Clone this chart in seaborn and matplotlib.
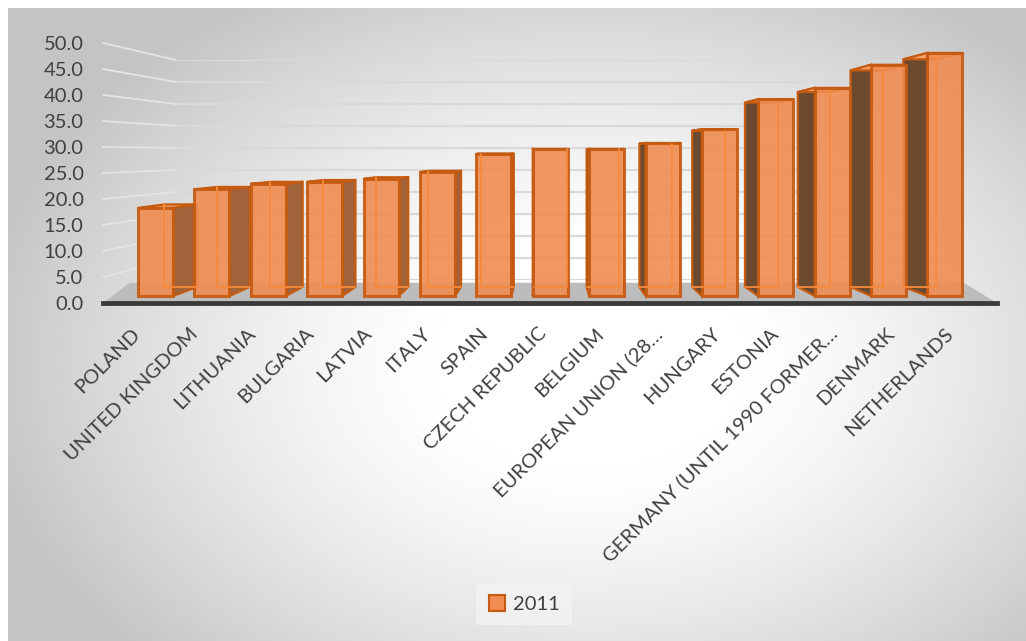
import numpy as np
import pandas as pd
import matplotlib
matplotlib.use("Agg")
import matplotlib.pyplot as plt
import seaborn as sns
from matplotlib.patches import Polygon, Patch, ConnectionPatch
from matplotlib import transforms

# ---------------- data ----------------
countries = ["POLAND", "UNITED KINGDOM", "LITHUANIA", "BULGARIA", "LATVIA", "ITALY",
             "SPAIN", "CZECH REPUBLIC", "BELGIUM", "EUROPEAN UNION (28\u2026",
             "HUNGARY", "ESTONIA", "GERMANY (UNTIL 1990 FORMER\u2026", "DENMARK",
             "NETHERLANDS"]
values_2011 = [17.9, 21.7, 22.8, 23.2, 23.8, 25.2, 28.9, 29.9, 29.9, 31.1,
               33.9, 40.0, 42.3, 47.0, 49.4]
series_name = "2011"
y_ticks = [0, 5, 10, 15, 20, 25, 30, 35, 40, 45, 50]

df = pd.DataFrame({"country": countries, "value": values_2011})

# ---------------- style ----------------
sns.set_theme(style="white")
plt.rcParams["font.family"] = ["Lato", "DejaVu Sans"]
TXT = "#404040"
FRONT = "#f08c50"
EDGE = "#c55a11"
BACKLINE = "#f58a3c"
TOP = "#f6a46c"
SIDE_R = "#a2623a"
SIDE_L = "#6b4a30"
FLOOR = "#bcbcbc"
GRID = "#d9d9d9"

W, H = 1026, 641
fig = plt.figure(figsize=(W / 100, H / 100), dpi=100)

def frac(x0, y0, x1, y1):
    """pixel box (top-left origin) -> figure fraction rect"""
    return [x0 / W, 1 - y1 / H, (x1 - x0) / W, (y1 - y0) / H]

# background radial gradient (chart area)
bg = fig.add_axes([0, 0, 1, 1], zorder=-10)
yy, xx = np.mgrid[0:H, 0:W]
d = np.sqrt(((xx - 590) / 620.0) ** 2 + ((yy - 360) / 430.0) ** 2)
g = 1.0 - 0.23 * np.clip((d - 0.25) / 0.75, 0, 1) ** 1.3
img = np.dstack([g, g, g])
img[:8, :, :] = 1.0
img[:, :8, :] = 1.0
bg.imshow(img, aspect="auto", extent=[0, 1, 0, 1], interpolation="bilinear")
bg.axis("off")

# back wall with gridlines
ax_wall = fig.add_axes(frac(176, 60, 965, 280), zorder=-3)
ax_wall.set_ylim(0, 50)
ax_wall.set_yticks(y_ticks)
ax_wall.set_xticks([])
ax_wall.tick_params(left=False, labelleft=False)
ax_wall.grid(axis="y", color=GRID, lw=1.6)
ax_wall.patch.set_visible(False)
for s in ax_wall.spines.values():
    s.set_visible(False)

# value-axis labels (front plane)
ax_lab = fig.add_axes(frac(103, 43, 104, 303), zorder=-3)
ax_lab.set_ylim(0, 50)
ax_lab.set_yticks(y_ticks)
ax_lab.set_yticklabels([f"{t:.1f}" for t in y_ticks])
ax_lab.set_xticks([])
ax_lab.tick_params(axis="y", length=0, pad=14, labelsize=14.5, labelcolor=TXT)
ax_lab.patch.set_visible(False)
for s in ax_lab.spines.values():
    s.set_visible(False)

# side-wall gridlines joining the label plane to the back wall
for t in y_ticks[1:]:
    cp = ConnectionPatch(xyA=(0, t), coordsA=ax_lab.get_yaxis_transform(),
                         xyB=(0, t), coordsB=ax_wall.get_yaxis_transform(),
                         color="#e4e4e4", lw=1.3, zorder=-2)
    fig.add_artist(cp)

# ---------------- main axes ----------------
PX_SCALE = 4.92          # px per unit at bar front plane
ax = fig.add_axes(frac(103, 30, 997, 303), zorder=0)
ax.patch.set_visible(False)
ylo = -(303 - 296) / PX_SCALE
yhi = (296 - 30) / PX_SCALE
xlo, xhi = -0.931, 14.923

VX, VY = 7.0, (296 - 153) / PX_SCALE   # vanishing point (data coords)
K = 0.064                               # depth of bars
BW = 0.62

def back(x, y, kx=K, ky=K):
    return x + kx * (VX - x), y + ky * (VY - y)

# front faces via seaborn
sns.barplot(data=df, x="country", y="value", order=countries, color=FRONT,
            width=BW, edgecolor=EDGE, linewidth=2.2, saturation=1, alpha=0.9,
            ax=ax, zorder=3)
ax.set_xlim(xlo, xhi)
ax.set_ylim(ylo, yhi)

# floor
fl = [(xlo, ylo), (xhi, ylo), back(xhi, ylo, 0.075, 0.135), back(xlo, ylo, 0.06, 0.135)]
ax.add_patch(Polygon(fl, closed=True, fc=FLOOR, ec="none", zorder=1))
ax.spines["bottom"].set_color("#3a3a3a")
ax.spines["bottom"].set_linewidth(3.5)
ax.spines["bottom"].set_zorder(6)
for s in ["left", "right", "top"]:
    ax.spines[s].set_visible(False)

# 3-D parts of each bar (back outline, side, top) derived from the data
for i, v in enumerate(values_2011):
    x0, x1 = i - BW / 2, i + BW / 2
    bl0 = back(x0, 0); bl1 = back(x0, v); br0 = back(x1, 0); br1 = back(x1, v)
    ax.add_patch(Polygon([(x0, v), (x1, v), br1, bl1], closed=True,
                         fc=TOP, ec=EDGE, lw=1.6, zorder=2.2))
    if i < VX:
        side = [(x1, 0), (x1, v), br1, br0]
        col = SIDE_R
        inner = (bl0, bl1)
    else:
        side = [(x0, 0), (x0, v), bl1, bl0]
        col = SIDE_L
        inner = (br0, br1)
    ax.add_patch(Polygon(side, closed=True, fc=col, ec=EDGE, lw=1.6, zorder=2.1))
    ax.plot([inner[0][0], inner[1][0]], [inner[0][1], inner[1][1]],
            color=BACKLINE, lw=1.3, zorder=3.5)
    ax.plot([bl0[0], br0[0]], [bl0[1], br0[1]], color=BACKLINE, lw=1.3, zorder=3.5)

ax.set_xlabel("")
ax.set_ylabel("")
ax.set_yticks([])
ax.set_xticks(range(len(countries)))
ax.set_xticklabels(countries, rotation=45, ha="right", va="center",
                   rotation_mode="anchor", fontsize=14.5, color=TXT)
ax.tick_params(axis="x", length=0, pad=20)
for i, lab in enumerate(ax.get_xticklabels()):
    dx = (-6.75 + (i - VX) * 1.68) / 100.0
    lab.set_transform(lab.get_transform() +
                      transforms.ScaledTranslation(dx, 0, fig.dpi_scale_trans))
if ax.get_legend() is not None:
    ax.get_legend().remove()

# legend
handle = Patch(facecolor=FRONT, edgecolor=EDGE, linewidth=1.5, label=series_name)
leg = fig.legend(handles=[handle], loc="center", bbox_to_anchor=(524 / W, 1 - 604 / H),
                 frameon=True, fontsize=14.5, handlelength=0.8, handleheight=0.8,
                 handletextpad=0.4, borderpad=0.6)
leg.get_frame().set_facecolor("#f3f3f3")
leg.get_frame().set_edgecolor("none")
for t in leg.get_texts():
    t.set_color(TXT)

fig.savefig("out.png", dpi=100)
